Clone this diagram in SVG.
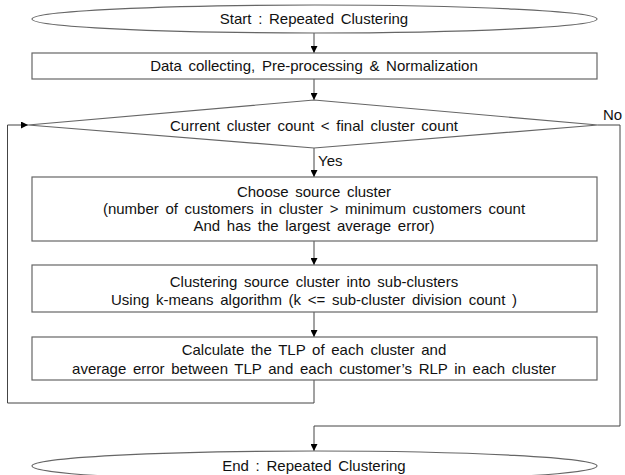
<svg xmlns="http://www.w3.org/2000/svg" width="625" height="475" viewBox="0 0 625 475">
<defs>
<marker id="ah" viewBox="0 0 10 10" refX="10" refY="5" markerWidth="7" markerHeight="7" markerUnits="userSpaceOnUse" orient="auto">
<path d="M0,0 L10,5 L0,10 Z" fill="#000"/>
</marker>
<style>
.s{fill:#fff;stroke:#666;stroke-width:1.2}
.c{fill:none;stroke:#444;stroke-width:1}
.t{font-family:"Liberation Sans",Arial,sans-serif;font-size:15px;fill:#111;text-anchor:middle;word-spacing:2.5px}
</style>
</defs>
<rect width="625" height="475" fill="#fff"/>
<g id="connectors">
<line class="c" x1="314" y1="33" x2="314" y2="53" marker-end="url(#ah)"/>
<line class="c" x1="314" y1="79" x2="314" y2="100" marker-end="url(#ah)"/>
<line class="c" x1="314" y1="148" x2="314" y2="177" marker-end="url(#ah)"/>
<line class="c" x1="314" y1="241" x2="314" y2="265" marker-end="url(#ah)"/>
<line class="c" x1="314" y1="312" x2="314" y2="337" marker-end="url(#ah)"/>
<polyline class="c" points="314,380 314,403 7.5,403 7.5,125 28,125" marker-end="url(#ah)"/>
<polyline class="c" points="598,125 620,125 620,426 314,426 314,451" marker-end="url(#ah)"/>
<text class="t" x="318" y="166" style="text-anchor:start">Yes</text>
<text class="t" x="603" y="120" style="text-anchor:start">No</text>
</g>
<g id="start">
<ellipse class="s" cx="314.5" cy="19" rx="282.5" ry="14"/>
<text class="t" x="314" y="24">Start : Repeated Clustering</text>
</g>
<g id="preprocess">
<rect class="s" x="32" y="53" width="565" height="26"/>
<text class="t" x="314" y="71">Data collecting, Pre-processing &amp; Normalization</text>
</g>
<g id="decision">
<polygon class="s" points="314,100 598,125 314,148 28,125"/>
<text class="t" x="314" y="131">Current cluster count &lt; final cluster count</text>
</g>
<g id="choose">
<rect class="s" x="32" y="177" width="565" height="64"/>
<text class="t" x="314" y="197">Choose source cluster</text>
<text class="t" x="314" y="214">(number of customers in cluster &gt; minimum customers count</text>
<text class="t" x="314" y="231">And has the largest average error)</text>
</g>
<g id="kmeans">
<rect class="s" x="32" y="265" width="565" height="47"/>
<text class="t" x="314" y="287">Clustering source cluster into sub-clusters</text>
<text class="t" x="314" y="305">Using k-means algorithm  (k &lt;= sub-cluster division count )</text>
</g>
<g id="calculate">
<rect class="s" x="32" y="337" width="565" height="43"/>
<text class="t" x="314" y="355">Calculate the TLP of each cluster and</text>
<text class="t" x="314" y="374">average error between TLP and each customer’s RLP in each cluster</text>
</g>
<g id="end">
<ellipse class="s" cx="314.5" cy="466" rx="282.5" ry="15"/>
<text class="t" x="314" y="471">End : Repeated Clustering</text>
</g>
</svg>
